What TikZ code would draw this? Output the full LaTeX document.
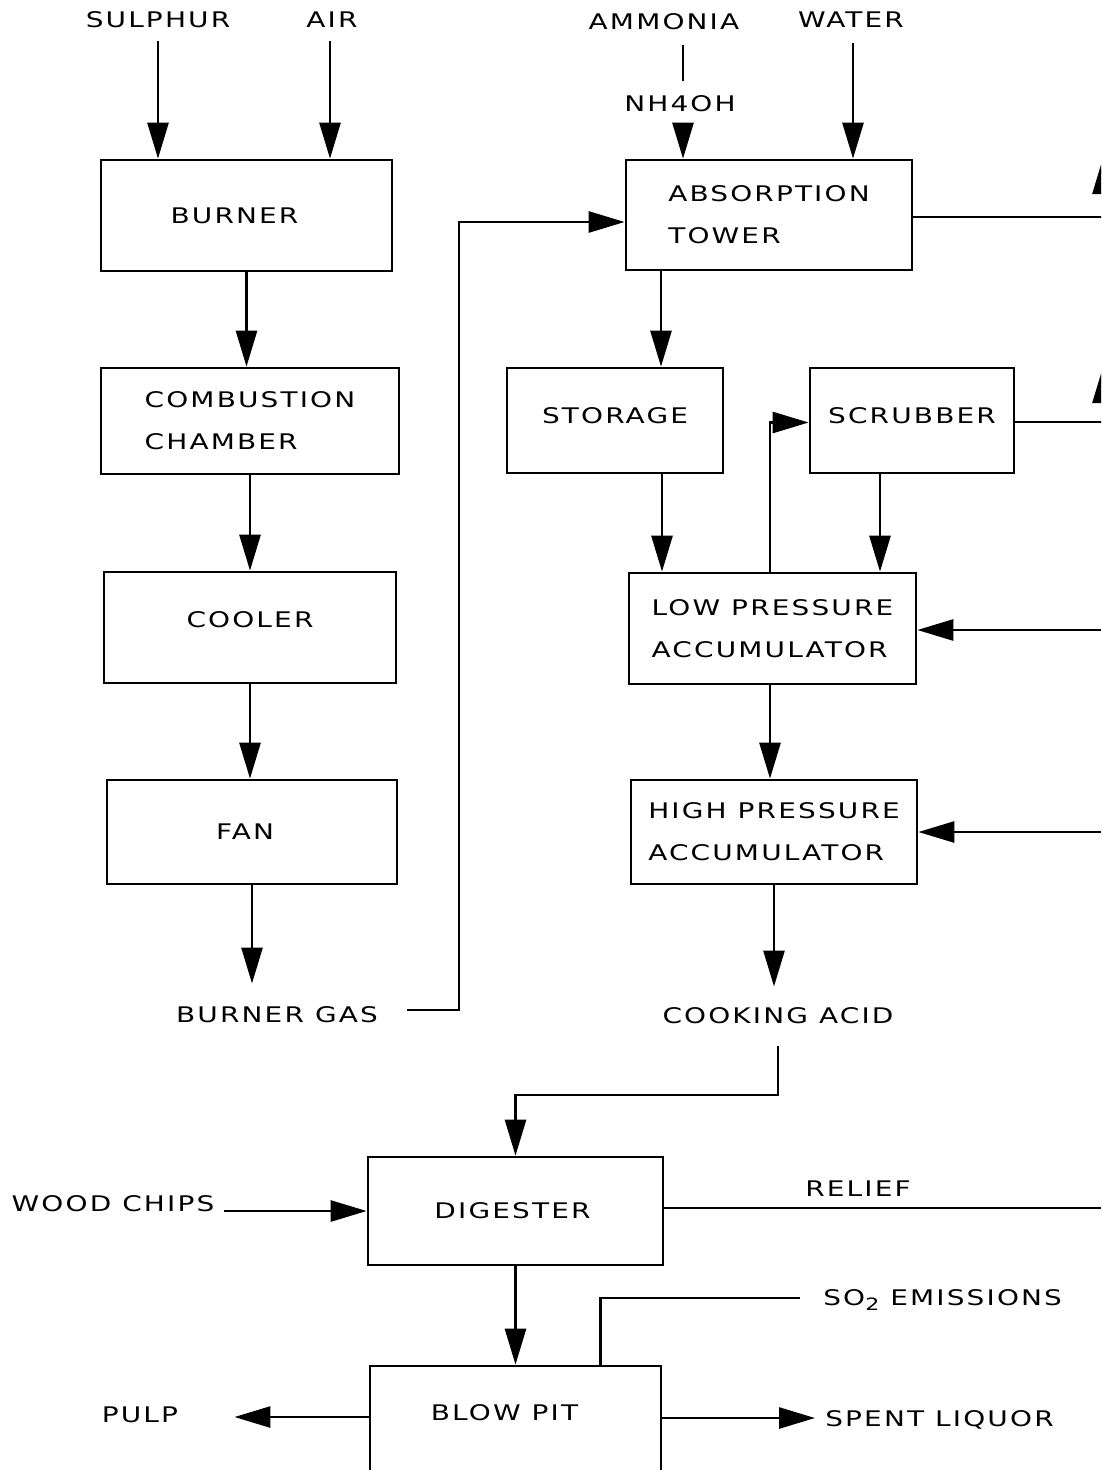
\documentclass[tikz,border=0pt]{standalone}
\usepackage{fontspec}
\setmainfont{DejaVu Sans}[FakeStretch=1.3, LetterSpace=10]
\usetikzlibrary{arrows.meta}
\newcommand{\lblfont}{\fontsize{21.5}{42}\selectfont}
\begin{document}
\begin{tikzpicture}[x=1pt, y=-1pt, line width=2.7pt,
  box/.style={draw, line width=2.7pt, inner sep=0pt, align=left, font=\lblfont},
  lbl/.style={inner sep=0pt, font=\lblfont},
  arr/.style={-{Triangle[length=36pt,width=21pt]}}]
\useasboundingbox (0,0) rectangle (1101,1470);
\clip (0,0) rectangle (1101,1470);

% --- acid plant, left column ---
\node[box, minimum width=291pt, minimum height=111pt] (burner) at (246.5,215.5) {BURNER\hspace*{24pt}};
\node[box, minimum width=298pt, minimum height=106pt] (comb) at (250,421) {COMBUSTION\\CHAMBER};
\node[box, minimum width=292pt, minimum height=111pt, text depth=16pt] (cooler) at (250,627.5) {COOLER};
\node[box, minimum width=290pt, minimum height=104pt] (fan) at (252,832) {FAN\hspace*{14pt}};

% --- acid plant, right column ---
\node[box, minimum width=286pt, minimum height=110pt] (absorb) at (769,215) {ABSORPTION\\TOWER};
\node[box, minimum width=216pt, minimum height=105pt, text depth=10pt] (storage) at (615,420.5) {STORAGE};
\node[box, minimum width=204pt, minimum height=105pt, text depth=10pt] (scrub) at (912,420.5) {SCRUBBER};
\node[box, minimum width=287pt, minimum height=111pt] (lpa) at (772.5,628.5) {LOW PRESSURE\\ACCUMULATOR};
\node[box, minimum width=286pt, minimum height=104pt] (hpa) at (774,832) {HIGH PRESSURE\\ACCUMULATOR};

% --- pulping ---
\node[box, minimum width=295pt, minimum height=108pt] (digester) at (515.5,1211) {DIGESTER\hspace*{6pt}};
\node[box, minimum width=291pt, minimum height=134pt, text depth=40pt] (blowpit) at (515.5,1433) {BLOW PIT\hspace*{22pt}};

% --- stream labels ---
\node[lbl] (sulphur) at (158,20) {SULPHUR};
\node[lbl] (air) at (332,20) {AIR};
\node[lbl] (ammonia) at (664,22) {AMMONIA};
\node[lbl] (water) at (851,20) {WATER};
\node[lbl] (nh4oh) at (680,104) {NH4OH};
\node[lbl] (burnergas) at (277,1015) {BURNER GAS};
\node[lbl] (cookacid) at (778,1016) {COOKING ACID};
\node[lbl] (wood) at (113,1204) {WOOD CHIPS};
\node[lbl] (relief) at (858,1189) {RELIEF};
\node[lbl, anchor=west] (so2) at (822,1300) {SO\raisebox{-0.2em}{\fontsize{17}{17}\selectfont 2} EMISSIONS};
\node[lbl] (pulp) at (140,1415) {PULP};
\node[lbl, anchor=west] (spent) at (824,1420) {SPENT LIQUOR};

% --- off-page ends ---
\coordinate (outA) at (1103,217);
\coordinate (outAtip) at (1103,158);
\coordinate (outS) at (1103,422);
\coordinate (outStip) at (1103,367);
\coordinate (inL) at (1101,630);
\coordinate (inH) at (1101,832);
\coordinate (outR) at (1101,1208);
\coordinate (bgturn) at (459,222);
\coordinate (caturn) at (778,1095);

% --- feeds ---
\draw[arr] ([yshift=-12pt]sulphur.south) -- (sulphur.south |- burner.north);
\draw[arr] ([yshift=-12pt,xshift=-2pt]air.south) -- ([xshift=-2pt]air.south |- burner.north);
\draw ([yshift=-14pt,xshift=19pt]ammonia.south) -- ([yshift=14pt,xshift=3pt]nh4oh.north);
\draw[arr] ([yshift=-10pt,xshift=3pt]nh4oh.south) -- ([xshift=3pt]nh4oh.south |- absorb.north);
\draw[arr] ([yshift=-14pt,xshift=2pt]water.south) -- ([xshift=2pt]water.south |- absorb.north);

% --- gas train ---
\draw[arr] (burner.south) -- (burner.south |- comb.north);
\draw[arr] (comb.south) -- (comb.south |- cooler.north);
\draw[arr] (cooler.south) -- (cooler.south |- fan.north);
\draw[arr] (fan.south) -- ([yshift=22pt]fan.south |- burnergas.north);
\draw[arr] ([xshift=28pt,yshift=5pt]burnergas.east) -| (bgturn) -- (bgturn -| absorb.west);

% --- liquor train ---
\draw[arr] ([xshift=-108pt]absorb.south) -- ([xshift=-108pt]absorb.south |- storage.north);
\draw[arr] (absorb.east |- outA) -- (outA) -- (outAtip);
\draw[arr] (scrub.east |- outS) -- (outS) -- (outStip);
\draw[arr] ([xshift=47pt]storage.south) -- ([xshift=47pt]storage.south |- lpa.north);
\draw[arr] ([xshift=-32pt]scrub.south) -- ([xshift=-32pt]scrub.south |- lpa.north);
\draw[arr] ([xshift=-2.5pt]lpa.north) |- ([yshift=-2pt]scrub.west);
\draw[arr] ([xshift=-2.5pt]lpa.south) -- ([xshift=-2.5pt]lpa.south |- hpa.north);
\draw[arr] (inL) -- (inL -| lpa.east);
\draw[arr] (inH) -- (inH -| hpa.east);
\draw[arr] (hpa.south) -- ([yshift=20pt]hpa.south |- cookacid.north);
\draw[arr] ([yshift=-21pt]cookacid.south) -- (caturn) -| (digester.north);

% --- pulping streams ---
\draw[arr] ([xshift=8pt]wood.east |- digester.west) -- (digester.west);
\draw (digester.east |- outR) -- (outR);
\draw[arr] (digester.south) -- (digester.south |- blowpit.north);
\draw ([xshift=85pt]blowpit.north) |- ([xshift=-22pt,yshift=2pt]so2.west);
\coordinate (pw) at ([yshift=16pt]blowpit.west);
\coordinate (pe) at ([yshift=15pt]blowpit.east);
\draw[arr, shorten >=55pt] (pw) -- (pw -| pulp.east);
\draw[arr, shorten >=9pt] (pe) -- (pe -| spent.west);
\end{tikzpicture}
\end{document}
